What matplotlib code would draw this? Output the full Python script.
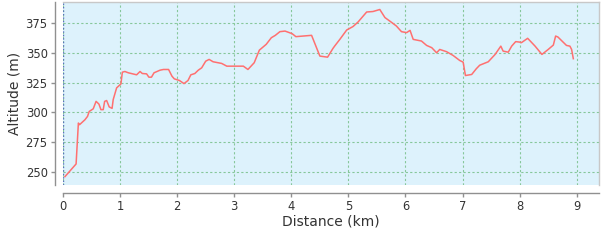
import matplotlib
matplotlib.use("Agg")
import matplotlib.pyplot as plt

# profil d'altitude
distance_km = [0.035, 0.23, 0.27, 0.29, 0.385, 0.43, 0.46, 0.53, 0.58, 0.63, 0.665,
               0.705, 0.73, 0.765, 0.81, 0.86, 0.88, 0.94, 1.015, 1.04, 1.085, 1.145,
               1.29, 1.35, 1.39, 1.465, 1.505, 1.55, 1.595, 1.7, 1.76, 1.85, 1.91,
               1.95, 2.04, 2.12, 2.19, 2.24, 2.31, 2.37, 2.43, 2.5, 2.56, 2.63, 2.78,
               2.87, 3.16, 3.24, 3.35, 3.44, 3.56, 3.65, 3.72, 3.8, 3.89, 4.015, 4.08,
               4.355, 4.50, 4.635, 4.73, 4.76, 4.85, 4.97, 5.08, 5.17, 5.32, 5.43,
               5.55, 5.64, 5.76, 5.84, 5.93, 6.02, 6.08, 6.135, 6.28, 6.37, 6.46,
               6.545, 6.6, 6.72, 6.835, 6.95, 7.01, 7.05, 7.16, 7.24, 7.30, 7.45,
               7.57, 7.67, 7.71, 7.80, 7.86, 7.93, 8.0, 8.03, 8.14, 8.27, 8.39, 8.5,
               8.59, 8.63, 8.67, 8.82, 8.88, 8.91, 8.94]
altitude_m = [245.8, 256.5, 291.0, 289.6, 293.8, 296.6, 300.8, 303.0, 309.3, 307.0, 302.3,
              302.3, 309.3, 310.0, 304.6, 303.4, 310.8, 320.7, 324.0, 333.9, 334.5, 333.4,
              331.7, 334.5, 332.8, 332.5, 329.7, 329.7, 333.4, 335.6, 336.2, 336.2, 330.5,
              328.3, 326.9, 324.3, 326.9, 331.7, 332.8, 335.6, 337.6, 343.2, 344.7, 342.7, 341.3,
              339.0, 339.0, 336.2, 341.9, 352.5, 357.4, 363.0, 365.0, 368.1, 368.6, 366.4, 363.9,
              365.0, 347.5, 346.6, 354.0, 356.0, 361.6, 369.5, 372.4, 376.3, 384.7, 385.1,
              386.8, 380.0, 375.8, 372.9, 368.1, 367.3, 369.2, 361.6, 360.2, 356.5, 354.6,
              350.3, 353.1, 351.2, 348.0, 343.8, 342.4, 331.1, 332.0, 336.8, 339.8, 342.7,
              348.9, 355.9, 351.7, 350.8, 355.9, 359.7, 359.3, 358.8, 362.5, 355.9, 348.9, 353.1,
              356.8, 364.4, 363.6, 356.5, 355.9, 353.1, 345.3]
x_ticks = [0, 1, 2, 3, 4, 5, 6, 7, 8, 9]
y_ticks = [250, 275, 300, 325, 350, 375]

fig = plt.figure(figsize=(6.09, 2.40), dpi=100)
ax = fig.add_axes([0.1034, 0.229, 0.8802, 0.763])

ax.set_facecolor("#ddf2fc")
ax.plot(distance_km, altitude_m, color="#ff7070", linewidth=1.1, zorder=3)
ax.axvline(0, color="#5a6fc0", linewidth=1.0, linestyle=(0, (1, 1.5)), zorder=2)

ax.set_xlim(0, 9.39)
ax.set_ylim(238.7, 393.2)
ax.set_xticks(x_ticks)
ax.set_yticks(y_ticks)
ax.grid(True, color="#86c79a", linestyle=(0, (2, 2)), linewidth=0.8)
ax.set_axisbelow(True)

# bordure du cadre + axes décalés (style JFreeChart)
for s in ["top", "right"]:
    ax.spines[s].set_color("#c8c8c8")
    ax.spines[s].set_linewidth(1.0)
for s in ["left", "bottom"]:
    ax.spines[s].set_position(("outward", 6))
    ax.spines[s].set_color("#909090")
    ax.spines[s].set_linewidth(1.0)
ax.tick_params(axis="both", colors="#909090", length=3, width=1.0,
               labelcolor="#333333", labelsize=8.3, pad=2)

ax.set_xlabel("Distance (km)", fontsize=10, color="#333333", labelpad=1)
ax.set_ylabel("Altitude (m)", fontsize=10, color="#333333", labelpad=3)

fig.savefig("out.png", dpi=100)
